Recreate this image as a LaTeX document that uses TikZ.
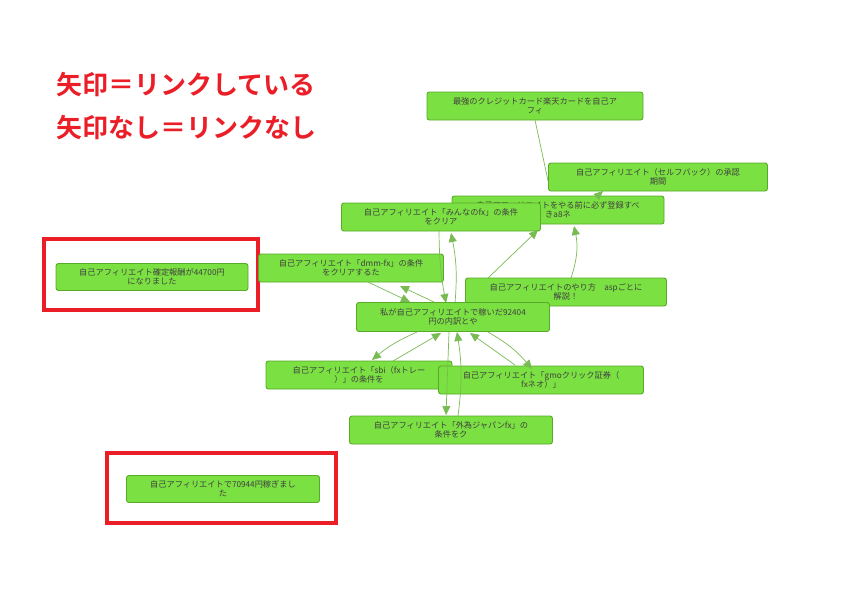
\documentclass[tikz,border=0pt]{standalone}
\usepackage{fontspec}
\newfontfamily\cjk{Noto Sans CJK JP}
\newfontfamily\cjkb{Noto Sans CJK JP Bold}
\usetikzlibrary{arrows.meta}
\definecolor{nfill}{RGB}{123,224,66}
\definecolor{nline}{RGB}{88,170,40}
\definecolor{ered}{RGB}{235,30,40}
\tikzset{
 nd/.style={draw=nline,fill=nfill,rounded corners=2.5pt,line width=0.9pt,inner sep=1pt,align=center,font=\cjk\fontsize{8.2}{9.2}\selectfont,text=black!75},
 ln/.style={draw=nline!80,line width=0.7pt},
 ar/.style={ln,-{Triangle[length=9pt,width=8pt]}},
 redbox/.style={draw=ered,line width=3.5pt},
}
\begin{document}
\begin{tikzpicture}[x=1pt,y=-1pt]
\useasboundingbox (0,0) rectangle (853,611);
\fill[white] (0,0) rectangle (853,611);
\node[font=\cjkb\fontsize{26}{30}\selectfont,text=ered,anchor=west,inner sep=0] (t1) at (56,85) {矢印＝リンクしている};
\node[font=\cjkb\fontsize{26}{30}\selectfont,text=ered,anchor=west,inner sep=0] (t2) at (56,128) {矢印なし＝リンクなし};
\draw[redbox] (44,239) rectangle (258,310);
\draw[redbox] (107,453) rectangle (336,523);
% coordinates for edges
\node[nd,minimum width=216,minimum height=28] (A) at (535,106) {最強のクレジットカード楽天カードを自己ア\\フィ};
\draw[ln] (535,120) -- (550,190);
\node[nd,minimum width=212,minimum height=28] (C) at (558,210) {自己アフィリエイトをやる前に必ず登録すべ\\きa8ネ};
\node[nd,minimum width=219,minimum height=28] (B) at (658,177) {自己アフィリエイト（セルフバック）の承認\\期間};
\node[nd,minimum width=201,minimum height=28] (F) at (566,292) {自己アフィリエイトのやり方　aspごとに\\解説！};
\node[nd,minimum width=199,minimum height=28] (D) at (441,217) {自己アフィリエイト「みんなのfx」の条件\\をクリア};
\node[nd,minimum width=185,minimum height=28] (E) at (351,268) {自己アフィリエイト「dmm-fx」の条件\\をクリアするた};
\draw[ar] (C.north) ++(40,0) -- (603,191);
\draw[ar] (488,278) -- (538,230);
\draw[ar] (571,278) to[bend right=15] (574,226);
\draw[ar] (439,231) to[bend right=5] (446,303);
\draw[ar] (455,303) to[bend right=8] (451,233);
\draw[ar] (368,282) -- (410,302);
\draw[ar] (436,303) -- (400,286);
\node[nd,minimum width=186,minimum height=28] (H) at (359,375) {自己アフィリエイト「sbi（fxトレー\\）」の条件を};
\node[nd,minimum width=205,minimum height=28] (I) at (541,380) {自己アフィリエイト「gmoクリック証券（\\fxネオ）」};
\node[nd,minimum width=203,minimum height=28] (J) at (451,430) {自己アフィリエイト「外為ジャパンfx」の\\条件をク};
\node[nd,minimum width=193,minimum height=29] (G) at (453,317) {私が自己アフィリエイトで稼いだ92404\\円の内訳とや};
\draw[ar] (417,332) to[bend right=8] (372,360);
\draw[ar] (393,361) -- (441,333);
\draw[ar] (488,332) to[bend left=10] (532,369);
\draw[ar] (515,365) -- (470,333);
\draw[ar] (449,332) -- (446,415);
\draw[ar] (458,416) to[bend right=8] (457,332);
\node[nd,minimum width=192,minimum height=27] (K) at (152,277) {自己アフィリエイト確定報酬が44700円\\になりました};
\node[nd,minimum width=193,minimum height=27] (L) at (223,489) {自己アフィリエイトで70944円稼ぎまし\\た};
\end{tikzpicture}
\end{document}
